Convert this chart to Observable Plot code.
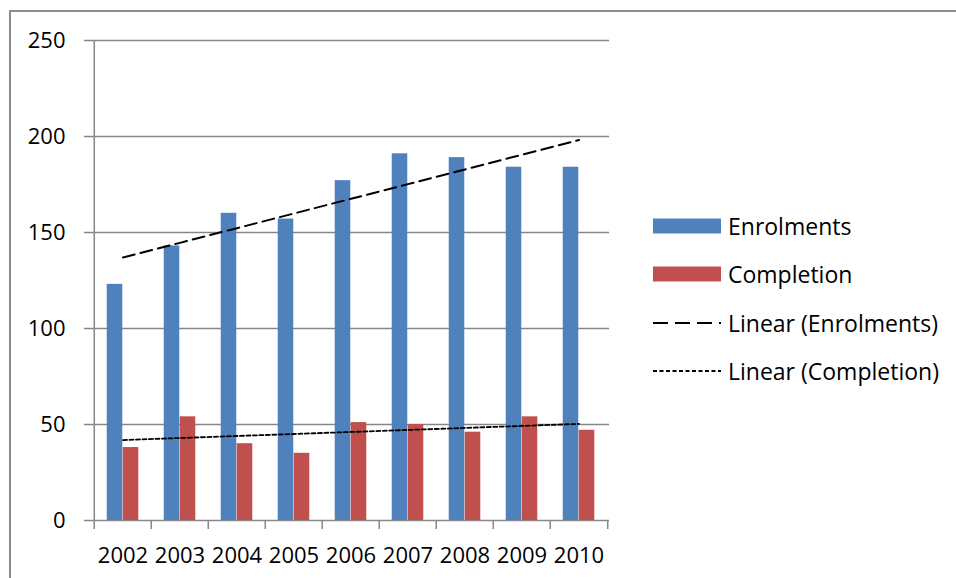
<!DOCTYPE html>
<html><head><meta charset="utf-8">
<script src="https://cdn.jsdelivr.net/npm/d3@7"></script>
<script src="https://cdn.jsdelivr.net/npm/@observablehq/plot@0.6"></script>
<style>
html,body{margin:0;padding:0;background:#fff;overflow:hidden;}
#wrap{position:relative;width:956px;height:578px;overflow:hidden;font-family:"Open Sans",sans-serif;}
#frame{position:absolute;left:9px;top:10px;width:1000px;height:1000px;border-left:2px solid #8c8c8c;border-top:2px solid #8c8c8c;}
#chart{position:absolute;left:0;top:0;}
#legend{position:absolute;left:653px;top:0;width:300px;height:578px;}
.row{position:absolute;left:0;height:30px;display:flex;align-items:center;font-size:23px;color:#000;white-space:nowrap;}
.row svg{margin-right:7px;flex:none;}
</style></head><body>
<div id="wrap"><div id="frame"></div><div id="chart"></div><div id="legend"></div></div>
<script>
const years = ["2002","2003","2004","2005","2006","2007","2008","2009","2010"];
const enrolments = [123,143,160,157,177,191,189,184,184];
const completion = [38,54,40,35,51,50,46,54,47];
const yTicks = [0,50,100,150,200,250];
const seriesNames = ["Enrolments","Completion"];
const trendNames = ["Linear (Enrolments)","Linear (Completion)"];
const colors = ["#4F81BD","#C0504D"];

function fit(vals){
  const xs = d3.range(vals.length);
  const mx = d3.mean(xs), my = d3.mean(vals);
  const b = d3.sum(xs, (x,i)=>(x-mx)*(vals[i]-my)) / d3.sum(xs, x=>(x-mx)**2);
  const a = my - b*mx;
  return years.map((y,i)=>({year:y, value:a+b*i}));
}
const rowsE = years.map((y,i)=>({year:y, value:enrolments[i]}));
const rowsC = years.map((y,i)=>({year:y, value:completion[i]}));

const W=956, H=578, mL=92, mR=347, mT=40, mB=58;
const bw = (W-mL-mR)/years.length;
const barW = 16, side = (bw-2*barW)/2;
const axisColor = "#868686";
const dashE = "12,6", dashC = "4,2.5";

const plot = Plot.plot({
  width: W, height: H,
  marginLeft: mL, marginRight: mR, marginTop: mT, marginBottom: mB,
  style: {fontFamily: "Open Sans", fontSize: "22px", color: "#000", background: "transparent", overflow: "visible"},
  x: {type: "band", domain: years, padding: 0, label: null},
  y: {domain: [0, 250], label: null},
  marks: [
    Plot.gridY(yTicks, {stroke: axisColor, strokeOpacity: 1, strokeWidth: 1.5}),
    Plot.axisY(yTicks, {tickSize: 8, tickPadding: 19, stroke: axisColor, strokeWidth: 1.5, fill: "#000", label: null, fontSize: 22}),
    Plot.axisX(years, {tickSize: 0, tickPadding: 27, fill: "#000", label: null, fontSize: 22}),
    Plot.ruleX([years[0]], {dx: -bw/2, y1: 0, y2: 250, stroke: axisColor, strokeWidth: 1.5}),
    Plot.ruleX(years, {dx: -bw/2, y1: 0, y2: 0, insetBottom: -9, stroke: axisColor, strokeWidth: 1.5}),
    Plot.ruleX([years[years.length-1]], {dx: bw/2, y1: 0, y2: 0, insetBottom: -9, stroke: axisColor, strokeWidth: 1.5}),
    Plot.barY(rowsE, {x: "year", y: "value", fill: colors[0], insetLeft: side, insetRight: side+barW}),
    Plot.barY(rowsC, {x: "year", y: "value", fill: colors[1], insetLeft: side+barW, insetRight: side}),
    Plot.line(fit(enrolments), {x: "year", y: "value", stroke: "#000", strokeWidth: 2, strokeDasharray: dashE}),
    Plot.line(fit(completion), {x: "year", y: "value", stroke: "#000", strokeWidth: 1.8, strokeDasharray: dashC})
  ]
});
document.getElementById("chart").appendChild(plot);

// legend
const legend = d3.select("#legend");
const items = [
  {label: seriesNames[0], type: "rect", color: colors[0], cy: 226},
  {label: seriesNames[1], type: "rect", color: colors[1], cy: 274},
  {label: trendNames[0], type: "line", dash: "15,7", cy: 323},
  {label: trendNames[1], type: "line", dash: "4,2.5", cy: 371}
];
items.forEach(it => {
  const row = legend.append("div").attr("class","row").style("top", (it.cy-15)+"px");
  const s = row.append("svg").attr("width",68).attr("height",30);
  if (it.type === "rect") {
    s.append("rect").attr("x",0).attr("y",7.5).attr("width",68).attr("height",15).attr("fill",it.color);
  } else {
    s.append("line").attr("x1",0).attr("x2",68).attr("y1",15).attr("y2",15)
      .attr("stroke","#000").attr("stroke-width",2).attr("stroke-dasharray",it.dash);
  }
  row.append("span").text(it.label);
});
</script>
</body></html>
